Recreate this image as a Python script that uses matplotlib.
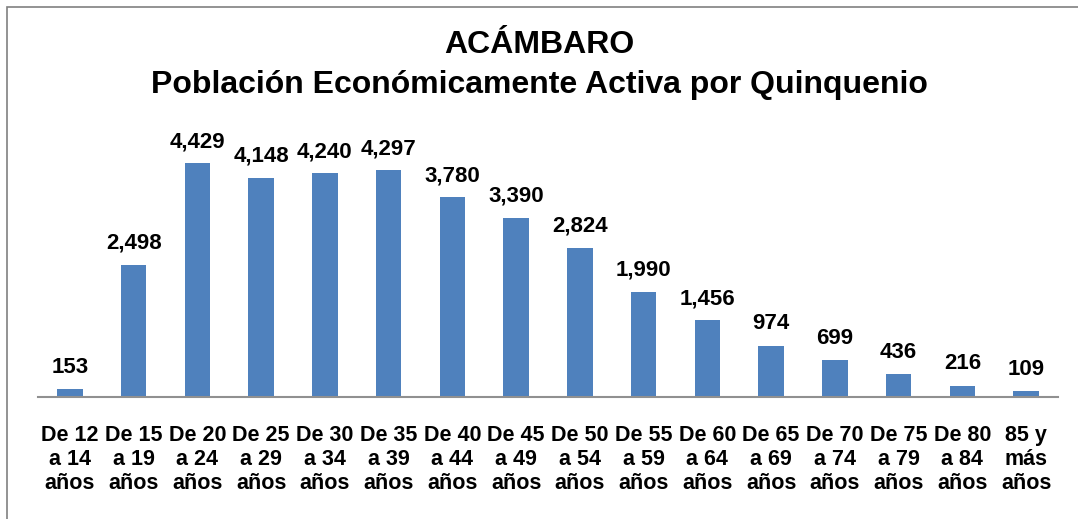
import matplotlib
matplotlib.use("Agg")
import matplotlib.pyplot as plt
from matplotlib.patches import Rectangle

categories = ["De 12\na 14\naños", "De 15\na 19\naños", "De 20\na 24\naños", "De 25\na 29\naños",
              "De 30\na 34\naños", "De 35\na 39\naños", "De 40\na 44\naños", "De 45\na 49\naños",
              "De 50\na 54\naños", "De 55\na 59\naños", "De 60\na 64\naños", "De 65\na 69\naños",
              "De 70\na 74\naños", "De 75\na 79\naños", "De 80\na 84\naños", "85 y\nmás\naños"]
values = [153, 2498, 4429, 4148, 4240, 4297, 3780, 3390, 2824, 1990, 1456, 974, 699, 436, 216, 109]
title = "ACÁMBARO\nPoblación Económicamente Activa por Quinquenio"

plt.rcParams['font.family'] = ['Liberation Sans', 'DejaVu Sans']

W, H = 1078, 519
fig = plt.figure(figsize=(W/100, H/100), dpi=100)
ax = fig.add_axes([38/W, 122/H, 1020/W, 264/H])

x = list(range(len(values)))
ax.bar(x, values, width=0.4, color="#4F81BD")
ax.set_xlim(-0.5, len(values) - 0.5)
ax.set_ylim(0, 5000)
for xi, v in zip(x, values):
    ax.annotate(f"{v:,}", (xi, v), xytext=(0, 8), textcoords="offset points",
                ha="center", va="bottom", fontsize=16, fontweight="bold")

ax.set_xticks(x)
ax.set_xticklabels(categories, fontsize=15.5, fontweight="bold", linespacing=1.19)
ax.tick_params(axis="x", length=0, pad=20)
ax.set_yticks([])
for s in ["top", "right", "left"]:
    ax.spines[s].set_visible(False)
ax.spines["bottom"].set_color("#909090")
ax.spines["bottom"].set_linewidth(1.5)

fig.text(0.5, 1 - 65/H, title, ha="center", va="center", fontsize=23, fontweight="bold",
         linespacing=1.42)

fig.patches.append(Rectangle((7/W, -0.1), 1.2, (1 - 7/H) + 0.1, transform=fig.transFigure,
                             fill=False, edgecolor="#808080", linewidth=1.2))

fig.savefig("out.png", dpi=100)
